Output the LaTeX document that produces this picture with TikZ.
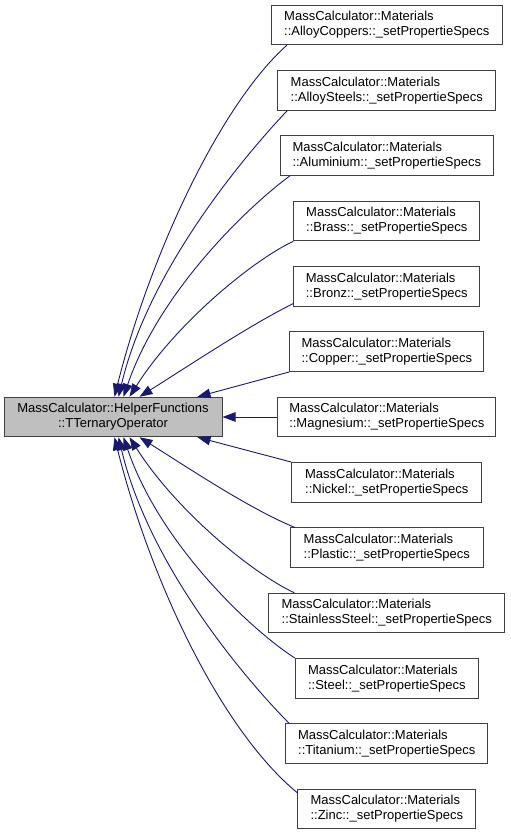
\documentclass[tikz,border=0pt]{standalone}
\usepackage{fontspec}
\setmainfont{Liberation Sans}
\usetikzlibrary{arrows.meta}
\definecolor{edgeblue}{HTML}{191970}
\definecolor{boxgray}{HTML}{BFBFBF}
\definecolor{boxline}{HTML}{404040}
\begin{document}
\begin{tikzpicture}[x=1pt,y=-1pt,
  box/.style={draw=boxline, line width=1pt, fill=white, align=left,
    font=\fontsize{13}{15}\selectfont, minimum height=39.5pt, inner sep=0pt},
  mainbox/.style={box, fill=boxgray, align=center},
  edge/.style={draw=edgeblue, line width=0.9pt, -{Triangle[length=13pt,width=9.5pt]}}]
\useasboundingbox (0,0) rectangle (511,836);
\fill[white] (0,0) rectangle (511,836);

\node[mainbox, minimum width=218pt] (L) at (113,417) {MassCalculator::HelperFunctions\\::TTernaryOperator};

\node[box, minimum width=231pt] (n1) at (386.8,25) {MassCalculator::Materials\\::AlloyCoppers::\_setPropertieSpecs};
\node[box, minimum width=218pt] (n2) at (386.8,90.3) {MassCalculator::Materials\\::AlloySteels::\_setPropertieSpecs};
\node[box, minimum width=213pt] (n3) at (386.8,155.7) {MassCalculator::Materials\\::Aluminium::\_setPropertieSpecs};
\node[box, minimum width=186pt] (n4) at (386.8,221) {MassCalculator::Materials\\::Brass::\_setPropertieSpecs};
\node[box, minimum width=186pt] (n5) at (386.8,286.3) {MassCalculator::Materials\\::Bronz::\_setPropertieSpecs};
\node[box, minimum width=194pt] (n6) at (386.8,351.7) {MassCalculator::Materials\\::Copper::\_setPropertieSpecs};
\node[box, minimum width=218pt] (n7) at (386.8,417) {MassCalculator::Materials\\::Magnesium::\_setPropertieSpecs};
\node[box, minimum width=190pt] (n8) at (386.8,482.3) {MassCalculator::Materials\\::Nickel::\_setPropertieSpecs};
\node[box, minimum width=193pt] (n9) at (386.8,547.7) {MassCalculator::Materials\\::Plastic::\_setPropertieSpecs};
\node[box, minimum width=236pt] (n10) at (386.8,613) {MassCalculator::Materials\\::StainlessSteel::\_setPropertieSpecs};
\node[box, minimum width=183pt] (n11) at (386.8,678.3) {MassCalculator::Materials\\::Steel::\_setPropertieSpecs};
\node[box, minimum width=202pt] (n12) at (386.8,743.7) {MassCalculator::Materials\\::Titanium::\_setPropertieSpecs};
\node[box, minimum width=178pt] (n13) at (386.8,809) {MassCalculator::Materials\\::Zinc::\_setPropertieSpecs};

% upper edges
\draw[edge] ([xshift=16pt]n1.south west) .. controls (220,105) and (150,255) .. ([xshift=111pt]L.north west);
\draw[edge] ([xshift=10pt]n2.south west) .. controls (250,150) and (150,265) .. ([xshift=115pt]L.north west);
\draw[edge] ([xshift=10pt]n3.south west) .. controls (250,205) and (160,290) .. ([xshift=120pt]L.north west);
\draw[edge] (n4.south west) .. controls (250,262) and (175,325) .. ([xshift=126pt]L.north west);
\draw[edge] ([yshift=3pt]n5.south west) .. controls (250,325) and (190,365) .. ([xshift=136pt]L.north west);
\draw[edge] (n6.south west) -- ([xshift=194pt]L.north west);
\draw[edge] (n7.west) -- (L.east);
% lower edges
\draw[edge] (n8.north west) -- ([xshift=194pt]L.south west);
\draw[edge] ([xshift=5pt]n9.north west) .. controls (250,509) and (190,469) .. ([xshift=136pt]L.south west);
\draw[edge] ([xshift=26pt]n10.north west) .. controls (250,572) and (175,509) .. ([xshift=126pt]L.south west);
\draw[edge] (n11.north west) .. controls (250,629) and (160,544) .. ([xshift=120pt]L.south west);
\draw[edge] ([xshift=4pt]n12.north west) .. controls (250,684) and (150,569) .. ([xshift=115pt]L.south west);
\draw[edge] ([yshift=-4pt]n13.north west) .. controls (220,729) and (150,579) .. ([xshift=111pt]L.south west);
\end{tikzpicture}
\end{document}
